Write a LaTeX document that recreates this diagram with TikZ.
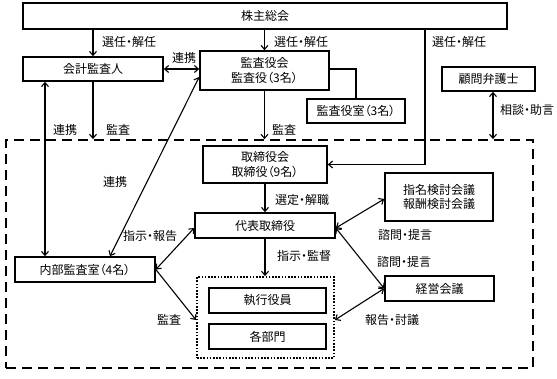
\documentclass[tikz,border=0pt]{standalone}
\usepackage{fontspec}
\setmainfont{Noto Sans CJK JP}[RawFeature=+palt]
\usetikzlibrary{arrows.meta}

\begin{document}
\begin{tikzpicture}[x=1pt, y=-1pt,
      every node/.style={font=\fontsize{12}{14.5}\selectfont},
      box/.style={draw, line width=1.6pt, inner sep=0pt, align=center},
      lbl/.style={anchor=west, inner sep=0pt},
      link/.style={line width=1.1pt},
      arr/.style={link, -{Straight Barb[length=4pt,width=7pt]}},
      both/.style={link, {Straight Barb[length=4pt,width=7pt]}-{Straight Barb[length=4pt,width=7pt]}}]
    \useasboundingbox (0,0) rectangle (557,379);
    % frames
    \node[draw, line width=1.8pt, dash pattern=on 10pt off 6pt,
      minimum width=527pt, minimum height=228pt] (group) at (269.5,254) {};
    \node[draw, line width=1.8pt, dash pattern=on 1.6pt off 1.6pt,
      minimum width=137pt, minimum height=81pt] (exec) at (265.5,317.5) {};
    % boxes
    \node[box, minimum width=484pt, minimum height=26pt] (soukai) at (265,16) {株主総会};
    \node[box, minimum width=140pt, minimum height=24pt] (kaikei) at (93,69) {会計監査人};
    \node[box, minimum width=129pt, minimum height=39pt] (kansa) at (264.5,70.5) {監査役会\\監査役（3名）};
    \node[box, minimum width=98pt, minimum height=24pt] (kansashitsu) at (356,111) {監査役室（3名）};
    \node[box, minimum width=93pt, minimum height=24pt] (komon) at (488.5,79) {顧問弁護士};
    \node[box, minimum width=124pt, minimum height=37pt] (torikai) at (265,164.5) {取締役会\\取締役（9名）};
    \node[box, minimum width=140pt, minimum height=25pt] (daihyo) at (265,225.5) {代表取締役};
    \node[box, minimum width=108pt, minimum height=48pt] (shimei) at (439,197) {指名検討会議\\報酬検討会議};
    \node[box, minimum width=109pt, minimum height=25pt] (keiei) at (439.5,288.5) {経営会議};
    \node[box, minimum width=140pt, minimum height=25pt] (naibu) at (85,269.5) {内部監査室（4名）};
    \node[box, minimum width=117pt, minimum height=25pt] (shikko) at (267.5,300.5) {執行役員};
    \node[box, minimum width=117pt, minimum height=25pt] (bumon) at (267.5,336.5) {各部門};
    \coordinate (rline) at (425,0);
    \coordinate (kline) at (45,0);
    \coordinate (cline) at (493,0);
    % connectors
    \draw[arr] (kaikei.north |- soukai.south) -- (kaikei.north);
    \draw[arr] (kansa.north |- soukai.south) -- (kansa.north);
    \draw[arr] (soukai.south -| rline) |- (torikai.east);
    \draw[both] (kaikei.east) -- (kansa.west |- kaikei.east);
    \draw[link] (kansa.east |- kaikei.east) -| (kansashitsu.north);
    \draw[arr] (kaikei.south) -- (group.north -| kaikei.south);
    \draw[both] (kaikei.south -| kline) -- (naibu.north -| kline);
    \draw[arr] (kansa.south) -- (group.north -| kansa.south);
    \draw[both] (komon.south -| cline) -- (group.north -| cline);
    \draw[both] ([xshift=25pt]naibu.north) -- ([yshift=-6.5pt]kansa.west);
    \draw[arr] (torikai.south) -- (daihyo.north);
    \draw[both] ([yshift=-2.5pt]daihyo.east) -- ([yshift=-2pt]shimei.west);
    \draw[both] ([yshift=-2.5pt]daihyo.east) -- (keiei.west);
    \draw[both] ([yshift=-2.5pt]daihyo.west) -- (naibu.east);
    \draw[arr] (naibu.east) -- ([yshift=-2.5pt]exec.west);
    \draw[arr] (daihyo.south) -- (exec.north -| daihyo.south);
    \draw[both] ([yshift=-2.5pt]exec.east) -- (keiei.west);
    % labels
    \node[lbl] (l1) at (102,42) {選任・解任};
    \node[lbl] (l2) at (274,42) {選任・解任};
    \node[lbl] (l3) at (432,42) {選任・解任};
    \node[lbl] (l4) at (172,58) {連携};
    \node[lbl] (l5) at (53,130) {連携};
    \node[lbl] (l6) at (106,130) {監査};
    \node[lbl] (l7) at (272,130) {監査};
    \node[lbl] (l8) at (500,110) {相談・助言};
    \node[lbl] (l9) at (103,182) {連携};
    \node[lbl] (l10) at (275,200) {選定・解職};
    \node[lbl] (l11) at (378,235) {諮問・提言};
    \node[lbl] (l12) at (377,262) {諮問・提言};
    \node[lbl] (l13) at (123,236) {指示・報告};
    \node[lbl] (l14) at (157,320) {監査};
    \node[lbl] (l15) at (277,256) {指示・監督};
    \node[lbl] (l16) at (365,320) {報告・討議};
  \end{tikzpicture}
\end{document}
